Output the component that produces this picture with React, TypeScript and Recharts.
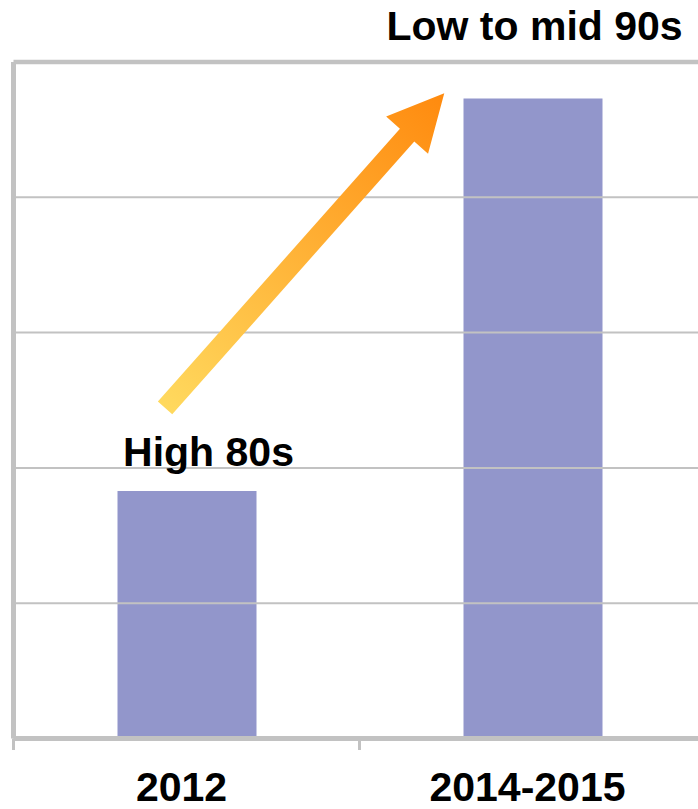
import React from 'react';
import {
  BarChart,
  Bar,
  XAxis,
  YAxis,
  ReferenceLine,
  ReferenceDot,
} from 'recharts';

// ---- data ----
const categories = ['2012', '2014-2015'];
const values = [1.83, 4.73];
const yTicks = [0, 1, 2, 3, 4, 5];
const xTicks = [0, 0.5, 1, 1.5, 2]; // integers = category boundaries, halves = category centres
const annotationTexts = ['High 80s', 'Low to mid 90s'];
const annotationX = [0.5636, 1.506];
const annotationY = [2.014, 5.163];
const arrowStart = { x: 0.438, y: 2.443 };
const arrowEnd = { x: 1.245, y: 4.769 };

const data = categories.map((c, i) => ({ category: c, pos: i + 0.5, value: values[i] }));

const FONT = '"Liberation Sans", Arial, Helvetica, sans-serif';
const GRID = '#C2C2C2';
const BAR = '#9296CB';

const W = 720;
const H = 809;

const ArrowShape = (props: any) => {
  const { x1, y1, x2, y2 } = props;
  if ([x1, y1, x2, y2].some((v) => typeof v !== 'number' || isNaN(v))) return null;
  const dx = x2 - x1;
  const dy = y2 - y1;
  const len = Math.sqrt(dx * dx + dy * dy);
  const ux = dx / len;
  const uy = dy / len;
  const px = -uy;
  const py = ux;
  const shaftHalf = 9.6;
  const headHalf = 28;
  const headLen = 56;
  const bx = x2 - ux * headLen;
  const by = y2 - uy * headLen;
  const pts = [
    [x1 + px * shaftHalf, y1 + py * shaftHalf],
    [bx + px * shaftHalf, by + py * shaftHalf],
    [bx + px * headHalf, by + py * headHalf],
    [x2, y2],
    [bx - px * headHalf, by - py * headHalf],
    [bx - px * shaftHalf, by - py * shaftHalf],
    [x1 - px * shaftHalf, y1 - py * shaftHalf],
  ]
    .map((p) => `${p[0]},${p[1]}`)
    .join(' ');
  return (
    <g>
      <defs>
        <linearGradient id="arrowGrad" gradientUnits="userSpaceOnUse" x1={x1} y1={y1} x2={x2} y2={y2}>
          <stop offset="0%" stopColor="#FFD95E" />
          <stop offset="100%" stopColor="#FF8A0E" />
        </linearGradient>
      </defs>
      <polygon points={pts} fill="url(#arrowGrad)" />
    </g>
  );
};

const makeTextShape = (text: string) => (props: any) => {
  const { cx, cy } = props;
  return (
    <text
      x={cx}
      y={cy}
      textAnchor="middle"
      fontFamily={FONT}
      fontWeight="bold"
      fontSize={41}
      fill="#000"
    >
      {text}
    </text>
  );
};

const BottomTick = (props: any) => {
  const { x, y, payload } = props;
  const v = payload.value;
  if (Number.isInteger(v)) {
    return <line x1={x} x2={x} y1={y} y2={y + 11.5} stroke={GRID} strokeWidth={3} />;
  }
  const label = categories[Math.floor(v)];
  return (
    <text
      x={x - 5}
      y={y + 62.5}
      textAnchor="middle"
      fontFamily={FONT}
      fontWeight="bold"
      fontSize={41}
      fill="#000"
    >
      {label}
    </text>
  );
};

export default function App() {
  return (
    <div
      style={{
        position: 'absolute',
        left: 0,
        top: 0,
        width: 698,
        height: 809,
        overflow: 'hidden',
        background: '#fff',
      }}
    >
      <BarChart
        width={W}
        height={H}
        data={data}
        margin={{ top: 62, left: 0, right: W - 705.5, bottom: 0 }}
      >
        <XAxis
          dataKey="pos"
          type="number"
          domain={[0, 2]}
          ticks={xTicks}
          height={H - 738.5}
          tickSize={0}
          tickMargin={0}
          tickLine={false}
          axisLine={{ stroke: GRID, strokeWidth: 5 }}
          tick={<BottomTick />}
          interval={0}
        />
        <YAxis
          type="number"
          domain={[0, 5]}
          ticks={yTicks}
          width={13.5}
          tick={false}
          tickLine={false}
          axisLine={{ stroke: GRID, strokeWidth: 5 }}
        />
        {yTicks.map((v) => (
          <ReferenceLine
            key={`grid-${v}`}
            y={v}
            stroke={GRID}
            strokeWidth={v === yTicks[yTicks.length - 1] ? 4.5 : 2}
          />
        ))}
        <Bar dataKey="value" fill={BAR} barSize={139} isAnimationActive={false} />
        <ReferenceLine
          segment={[arrowStart, arrowEnd]}
          ifOverflow="visible"
          shape={ArrowShape}
        />
        {annotationTexts.map((t, i) => (
          <ReferenceDot
            key={t}
            x={annotationX[i]}
            y={annotationY[i]}
            r={0}
            ifOverflow="visible"
            shape={makeTextShape(t)}
          />
        ))}
      </BarChart>
    </div>
  );
}
